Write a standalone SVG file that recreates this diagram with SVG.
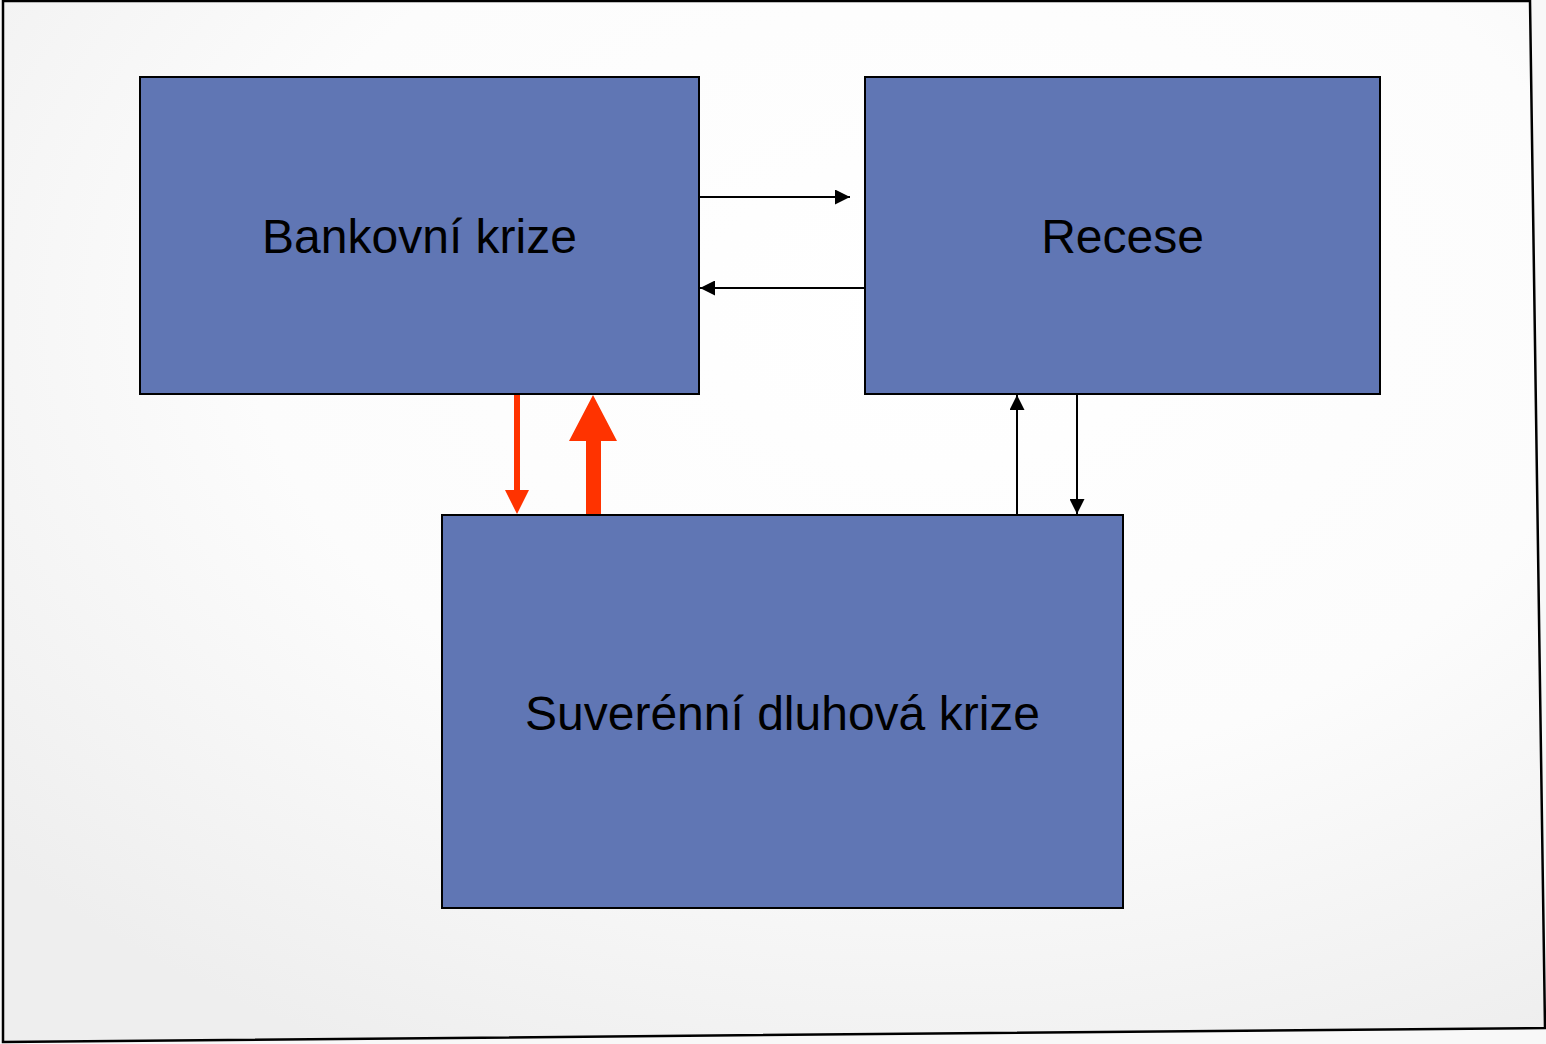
<svg xmlns="http://www.w3.org/2000/svg" width="1546" height="1044" viewBox="0 0 1546 1044">
<defs>
<radialGradient id="bg" cx="0.6" cy="0.3" r="0.8">
<stop offset="0" stop-color="#ffffff"/>
<stop offset="0.55" stop-color="#fcfcfc"/>
<stop offset="1" stop-color="#eeeeee"/>
</radialGradient>
<marker id="ah" viewBox="0 0 10 10" refX="10" refY="5" markerWidth="15" markerHeight="15" markerUnits="userSpaceOnUse" orient="auto">
<path d="M0,0 L10,5 L0,10 z" fill="#000"/>
</marker>
</defs>
<style>
.box{fill:#6076B4;stroke:#000;stroke-width:2}
.lbl{font-family:"Liberation Sans",Arial,sans-serif;font-size:48px;fill:#000;text-anchor:middle}
.conn{stroke:#000;stroke-width:2;fill:none}
</style>
<rect x="0" y="0" width="1546" height="1044" fill="#f8f8f8"/>
<path d="M3,1 L1530,1 L1545,1028 L3,1042 Z" fill="url(#bg)" stroke="#000" stroke-width="2.5"/>
<g id="bankovni">
<rect class="box" x="140" y="77" width="559" height="317"/>
<text class="lbl" x="419.5" y="253">Bankovní krize</text>
</g>
<g id="recese">
<rect class="box" x="865" y="77" width="515" height="317"/>
<text class="lbl" x="1122.5" y="253">Recese</text>
</g>
<g id="suverenni">
<rect class="box" x="442" y="515" width="681" height="393"/>
<text class="lbl" x="782.5" y="730">Suverénní dluhová krize</text>
</g>
<g id="connectors">
<line class="conn" x1="700" y1="197" x2="850" y2="197" marker-end="url(#ah)"/>
<line class="conn" x1="865" y1="288" x2="700" y2="288" marker-end="url(#ah)"/>
<line class="conn" x1="1017" y1="515" x2="1017" y2="395" marker-end="url(#ah)"/>
<line class="conn" x1="1077" y1="395" x2="1077" y2="514" marker-end="url(#ah)"/>
<path d="M514,395 L520,395 L520,490 L529,490 L517,514 L505,490 L514,490 Z" fill="#FF3300"/>
<path d="M586,514 L601,514 L601,441 L617,441 L593,395 L569,441 L586,441 Z" fill="#FF3300"/>
</g>
</svg>
